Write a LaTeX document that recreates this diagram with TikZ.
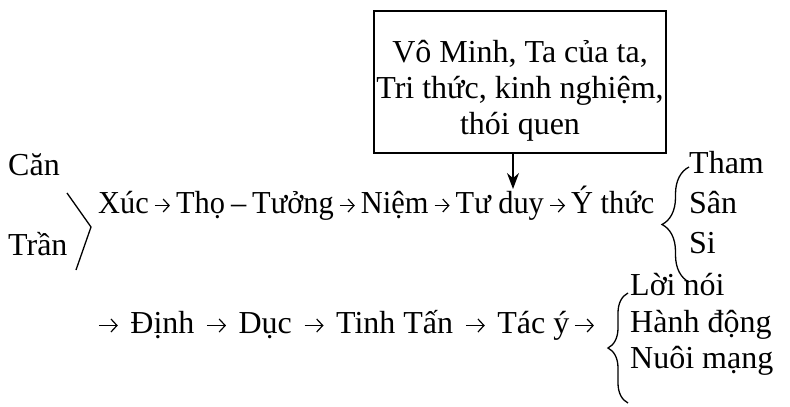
\documentclass[tikz,border=0pt]{standalone}
\usepackage{fontspec}
\setmainfont{Liberation Serif}
\newfontfamily\narrowfont[FakeStretch=0.95]{Liberation Serif}
\usetikzlibrary{arrows.meta,decorations.pathreplacing}

% arrow between two steps: length, gap on each side
\newcommand{\steparrow}[1]{\tikz[baseline=0pt]\draw[line width=1.2pt,-{Straight Barb[length=6pt,width=13pt]}] (0pt,7.5pt) -- (#1,7.5pt);}
\newcommand{\nextstep}[2]{\kern#2\steparrow{#1}\kern#2}

\begin{document}
\begin{tikzpicture}[x=1pt,y=-1pt,
		txt/.style={inner sep=0pt,anchor=base west,font=\fontsize{32}{36.5}\selectfont},
		box/.style={draw,line width=1.4pt,inner sep=0pt,minimum width=292pt,minimum height=142pt,
			align=center,font=\fontsize{32}{36}\selectfont},
		brc/.style={line width=1.3pt,decorate,decoration={brace,amplitude=#1}}]
	
	\useasboundingbox (0,0) rectangle (790,407);
	
	% Root words on the left
	\node[txt] (can) at (8,175) {Căn};
	\node[txt] (tran) at (8,255) {Trần};
	\draw[line width=1.3pt] (67,193) -- (91,227) -- (76,270);
	
	% First chain
	\node[txt] (row1) at (98,213) {\narrowfont Xúc\nextstep{15pt}{5.5pt}Thọ\kern6pt–\kern6pt Tưởng\nextstep{15pt}{5.5pt}Niệm\nextstep{15pt}{5.5pt}Tư duy\nextstep{15pt}{5.5pt}Ý thức};
	
	% Box feeding into the chain
	\node[box] (vominh) at (520,82) {\rule{0pt}{40pt}Vô Minh, Ta của ta,\\Tri thức, kinh nghiệm,\\thói quen};
	\coordinate (duy) at (513,189);
	\draw[line width=1.3pt,-{Stealth[length=16pt,width=12pt]}] (vominh.south -| duy) -- (duy);
	
	% Three poisons
	\draw[brc=27pt] (689,282) -- (689,167);
	\foreach \w/\y [count=\i] in {Tham/173,Sân/213,Si/253}
		\node[txt] (doc\i) at (689,\y) {\w};
	
	% Second chain
	\node[txt] (row2) at (98,333) {\steparrow{19pt}\kern12pt Định\nextstep{19pt}{12pt}Dục\nextstep{19pt}{12pt}Tinh Tấn\nextstep{19pt}{12pt}Tác ý\kern5pt\steparrow{19pt}};
	
	% Three kinds of action
	\draw[brc=20pt] (628,403) -- (628,293);
	\foreach \w/\y [count=\i] in {Lời nói/295,Hành động/332,Nuôi mạng/368}
		\node[txt] (nghiep\i) at (630,\y) {\w};
	
\end{tikzpicture}
\end{document}
